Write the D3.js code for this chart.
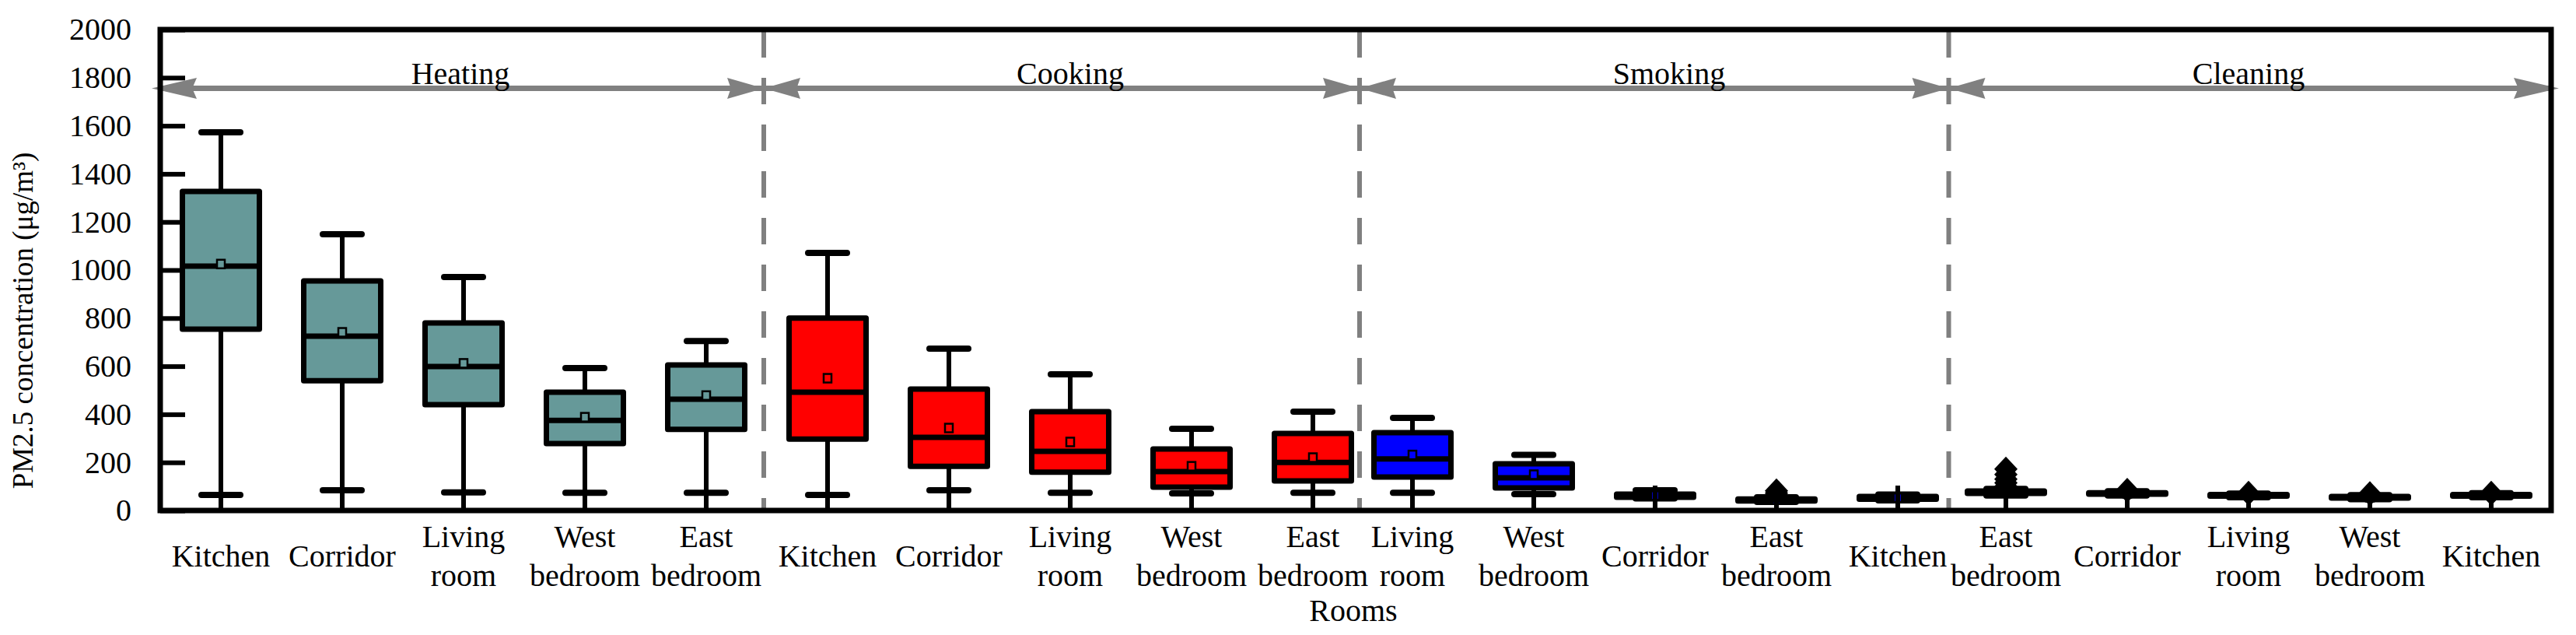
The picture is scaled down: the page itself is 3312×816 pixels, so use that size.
<!DOCTYPE html>
<html><head><meta charset="utf-8">
<script src="https://cdn.jsdelivr.net/npm/d3@7"></script>
<style>
body{margin:0;background:#fff}
svg{display:block;background:#fff}
text{font-family:"Liberation Serif","Times New Roman",serif;fill:#000}
</style>
</head><body>
<svg id="chart" width="3312" height="816" font-family="Liberation Serif, Times New Roman, serif"></svg>
<script>
// ---------------- data ----------------
const groupNames = ["Heating", "Cooking", "Smoking", "Cleaning"];
const groupSizes = [5, 5, 5, 5];
const categories = [
  "Kitchen", "Corridor", "Living room", "West bedroom", "East bedroom",
  "Kitchen", "Corridor", "Living room", "West bedroom", "East bedroom",
  "Living room", "West bedroom", "Corridor", "East bedroom", "Kitchen",
  "East bedroom", "Corridor", "Living room", "West bedroom", "Kitchen"
];
const lowerWhisker = [65, 84, 75, 74, 74,   65, 84, 74, 71, 74,   74, 68, 50, 36, 42,   62, 62, 55, 47, 55];
const q1Values     = [754, 540, 440, 278, 337, 297, 184, 159, 97, 123, 139, 94, 55, 40, 47,  71, 68, 60, 52, 60];
const medianValues = [1016, 725, 599, 375, 463, 492, 304, 246, 162, 200, 214, 136, 60, 44, 52, 76, 71, 63, 55, 63];
const q3Values     = [1327, 955, 780, 492, 605, 800, 505, 411, 256, 320, 324, 194, 68, 48, 58, 81, 74, 66, 58, 66];
const upperWhisker = [1573, 1149, 971, 592, 705, 1071, 673, 566, 340, 411, 385, 231, 84, 55, 66, 90, 80, 70, 64, 72];
const meanValues   = [1025, 741, 612, 388, 478, 550, 343, 285, 184, 220, 231, 149, 62, 45, 53, 76, 71, 63, 55, 63];
const outlierValues = [
  [], [], [], [], [],
  [], [], [], [], [],
  [], [], [], [72, 82], [],
  [100, 115, 130, 150, 172], [84], [72], [70], [72]
];
const yTicks = [0, 200, 400, 600, 800, 1000, 1200, 1400, 1600, 1800, 2000];
const yLabel = "PM2.5 concentration (\u03bcg/m\u00b3)";
const xLabel = "Rooms";

// ---------------- layout / style ----------------
const FONT = "Liberation Serif, Times New Roman, serif";
const frame = {left: 206, right: 3280, top: 38, bottom: 656};
const groupFill = ["#669999", "#ff0000", "#0000ff", "#000000"];
const groupShift = [0, 0, -28, -45];
const groupLabelNudge = [-4, 0, 18, 0];
const boxW = 99, capHalf = 25, tickLen = 32;

const groupIdx = [];
groupSizes.forEach((n, g) => { for (let k = 0; k < n; k++) groupIdx.push(g); });

const svg = d3.select("#chart");
const y = d3.scaleLinear().domain([0, 2000]).range([frame.bottom, frame.top]);
const xPoint = d3.scalePoint().domain(d3.range(categories.length)).range([284, 3248]);
const x = i => xPoint(i) + groupShift[groupIdx[i]];

// group boundaries
const starts = [];
{ let s = 0; groupSizes.forEach(n => { starts.push(s); s += n; }); }
const boundaries = starts.slice(1).map(s => (x(s - 1) + x(s)) / 2 - 4);

// dashed separators
svg.append("g").selectAll("line").data(boundaries).join("line")
  .attr("x1", d => d).attr("x2", d => d)
  .attr("y1", frame.top + 2).attr("y2", frame.bottom)
  .attr("stroke", "#808080").attr("stroke-width", 6)
  .attr("stroke-dasharray", "34,26");

// arrows
const arrowY = 113.5;
const segEdges = [frame.left - 11, ...boundaries, frame.right + 10];
const ag = svg.append("g");
ag.append("line").attr("x1", segEdges[0] + 10).attr("x2", segEdges[segEdges.length - 1] - 10)
  .attr("y1", arrowY).attr("y2", arrowY).attr("stroke", "#808080").attr("stroke-width", 7);
const heads = [];
for (let g = 0; g < groupNames.length; g++) {
  const a = segEdges[g], b = segEdges[g + 1];
  heads.push({tip: a, dir: 1, len: g === 0 ? 58 : 47});
  heads.push({tip: b, dir: -1, len: g === groupNames.length - 1 ? 58 : 47});
}
ag.selectAll("path").data(heads).join("path")
  .attr("d", h => `M${h.tip},${arrowY} L${h.tip + h.dir * h.len},${arrowY - 13.5} L${h.tip + h.dir * h.len * 0.9},${arrowY} L${h.tip + h.dir * h.len},${arrowY + 13.5} Z`)
  .attr("fill", "#808080");

// group labels
svg.append("g").selectAll("text").data(groupNames).join("text")
  .attr("x", (d, g) => d3.mean(d3.range(starts[g], starts[g] + groupSizes[g]), i => x(i)) + groupLabelNudge[g])
  .attr("y", 108).attr("text-anchor", "middle").attr("font-size", 40)
  .attr("font-family", FONT).text(d => d);

// boxes
const idx = d3.range(categories.length);
const bg = svg.append("g");
const item = bg.selectAll("g").data(idx).join("g");
item.append("line")
  .attr("x1", i => x(i)).attr("x2", i => x(i))
  .attr("y1", i => y(lowerWhisker[i])).attr("y2", i => y(upperWhisker[i]))
  .attr("stroke", "#000").attr("stroke-width", 6);
item.append("rect")
  .attr("x", i => x(i) - boxW / 2).attr("width", boxW)
  .attr("y", i => y(q3Values[i])).attr("height", i => y(q1Values[i]) - y(q3Values[i]))
  .attr("fill", i => groupFill[groupIdx[i]])
  .attr("stroke", "#000").attr("stroke-width", 7).attr("stroke-linejoin", "round");
item.append("line")
  .attr("x1", i => x(i) - boxW / 2).attr("x2", i => x(i) + boxW / 2)
  .attr("y1", i => y(medianValues[i])).attr("y2", i => y(medianValues[i]))
  .attr("stroke", "#000").attr("stroke-width", 7);
item.selectAll("line.cap").data(i => [[i, lowerWhisker[i]], [i, upperWhisker[i]]]).join("line")
  .attr("class", "cap")
  .attr("x1", d => x(d[0]) - capHalf).attr("x2", d => x(d[0]) + capHalf)
  .attr("y1", d => y(d[1])).attr("y2", d => y(d[1]))
  .attr("stroke", "#000").attr("stroke-width", 8).attr("stroke-linecap", "round");
item.append("rect")
  .attr("x", i => x(i) - 5).attr("width", 10)
  .attr("y", i => y(meanValues[i]) - 5.5).attr("height", 11)
  .attr("fill", i => groupFill[groupIdx[i]])
  .attr("stroke", "#000").attr("stroke-width", 2.5);
item.selectAll("path.out").data(i => outlierValues[i].map(v => [i, v])).join("path")
  .attr("class", "out")
  .attr("d", d => { const cx = x(d[0]), cy = y(d[1]); return `M${cx},${cy - 16} L${cx + 15},${cy} L${cx},${cy + 16} L${cx - 15},${cy} Z`; })
  .attr("fill", "#000");

// x ticks (inward)
svg.append("g").selectAll("line").data(idx).join("line")
  .attr("x1", i => x(i)).attr("x2", i => x(i))
  .attr("y1", frame.bottom).attr("y2", frame.bottom - tickLen)
  .attr("stroke", "#000").attr("stroke-width", 6);

// y axis ticks + labels
const yAxis = d3.axisLeft(y).tickValues(yTicks).tickSize(-tickLen).tickPadding(37).tickFormat(d3.format("d"));
const yg = svg.append("g").attr("transform", `translate(${frame.left},0)`).call(yAxis)
  .attr("font-family", FONT).attr("font-size", 40);
yg.select(".domain").remove();
yg.selectAll(".tick line").attr("stroke", "#000").attr("stroke-width", 6);
yg.selectAll(".tick text").attr("font-size", 40).attr("font-family", FONT).attr("fill", "#000");

// frame
svg.append("rect").attr("x", frame.left).attr("y", frame.top)
  .attr("width", frame.right - frame.left).attr("height", frame.bottom - frame.top)
  .attr("fill", "none").attr("stroke", "#000").attr("stroke-width", 7);

// x category labels
const xl = svg.append("g").selectAll("text").data(idx).join("text")
  .attr("text-anchor", "middle").attr("font-size", 40).attr("font-family", FONT);
xl.each(function(i) {
  const parts = categories[i].split(" ");
  const t = d3.select(this);
  if (parts.length === 1) {
    t.append("tspan").attr("x", x(i)).attr("y", 728).text(parts[0]);
  } else {
    t.append("tspan").attr("x", x(i)).attr("y", 703).text(parts[0]);
    t.append("tspan").attr("x", x(i)).attr("y", 753).text(parts[1]);
  }
});

// axis titles
svg.append("text").attr("x", (frame.left + frame.right) / 2 - 3).attr("y", 798)
  .attr("text-anchor", "middle").attr("font-size", 40).attr("font-family", FONT).text(xLabel);
svg.append("text").attr("transform", "translate(42,412) rotate(-90)")
  .attr("text-anchor", "middle").attr("font-size", 37).attr("font-family", FONT).text(yLabel);
</script>
</body></html>
